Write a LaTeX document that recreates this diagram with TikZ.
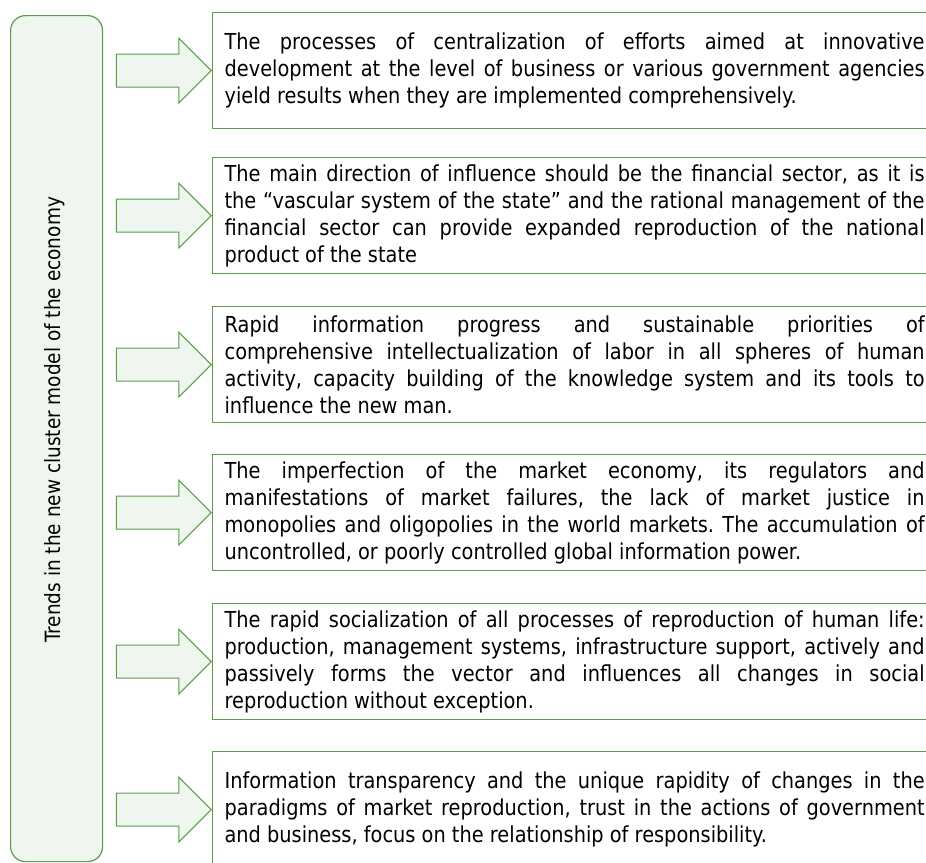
\documentclass[tikz,border=0pt]{standalone}
\usepackage{fontspec}
\setmainfont{DejaVu Sans}[FakeStretch=0.88]
\usetikzlibrary{shapes.arrows}
\definecolor{trendgreen}{RGB}{88,158,72}
\definecolor{trendfill}{RGB}{239,245,239}
\tolerance=10000
\hbadness=10000
\frenchspacing

\begin{document}
\begin{tikzpicture}[x=1pt,y=-1pt,
		trendbox/.style={draw=trendgreen,line width=1.2pt,anchor=north west,minimum height=116pt,text width=700pt,inner xsep=12pt,inner ysep=0pt,align=justify,font=\fontsize{22}{27}\selectfont},
		trendarrow/.style={single arrow,draw=trendgreen,fill=trendfill,line width=1pt,minimum height=95pt,single arrow head extend=16pt,inner xsep=0pt,inner ysep=16pt,anchor=tip}]
			\clip(0,0) rectangle (926,862);

			\node[draw=trendgreen,fill=trendfill,rounded corners=15pt,line width=1.2pt,minimum width=92pt,minimum height=846pt,anchor=north west] (trends) at(10,15){};
				\node[rotate=90,font=\fontsize{21}{27}\selectfont] (trendslabel) at(55,420){Trends in the new cluster model of the economy};

			\node[trendbox] (b1) at(212,12){The processes of centralization of efforts aimed at innovative\linebreak development at the level of business or various government agencies\linebreak yield results when they are implemented comprehensively.};
				\node[trendarrow] (a1) at(b1.west){};
			\node[trendbox] (b2) at(212,157){The main direction of influence should be the financial sector, as it is\linebreak the “vascular system of the state” and the rational management of the\linebreak financial sector can provide expanded reproduction of the national\linebreak product of the state};
				\node[trendarrow] (a2) at(b2.west){};
			\node[trendbox] (b3) at(212,306){Rapid information progress and sustainable priorities of\linebreak comprehensive intellectualization of labor in all spheres of human\linebreak activity, capacity building of the knowledge system and its tools to\linebreak influence the new man.};
				\node[trendarrow] (a3) at(b3.west){};
			\node[trendbox] (b4) at(212,454){The imperfection of the market economy, its regulators and\linebreak manifestations of market failures, the lack of market justice in\linebreak monopolies and oligopolies in the world markets. The accumulation of\linebreak uncontrolled, or poorly controlled global information power.};
				\node[trendarrow] (a4) at(b4.west){};
			\node[trendbox] (b5) at(212,603){The rapid socialization of all processes of reproduction of human life:\linebreak production, management systems, infrastructure support, actively and\linebreak passively forms the vector and influences all changes in social\linebreak reproduction without exception.};
				\node[trendarrow] (a5) at(b5.west){};
			\node[trendbox] (b6) at(212,751){Information transparency and the unique rapidity of changes in the\linebreak paradigms of market reproduction, trust in the actions of government\linebreak and business, focus on the relationship of responsibility.};
				\node[trendarrow] (a6) at(b6.west){};
		\end{tikzpicture}
\end{document}
